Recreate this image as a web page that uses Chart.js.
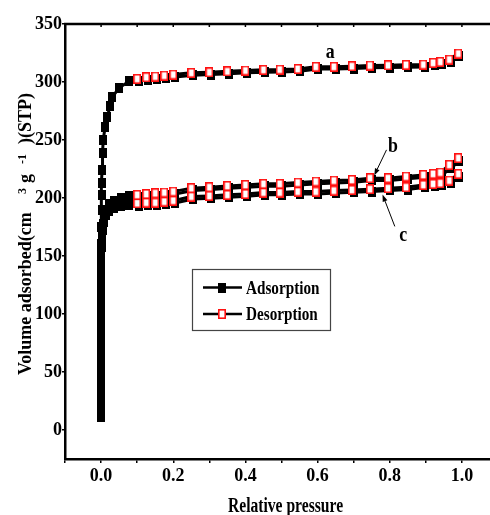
<!DOCTYPE html>
<html>
<head>
<meta charset="utf-8">
<script src="https://cdn.jsdelivr.net/npm/chart.js@4/dist/chart.umd.min.js"></script>
<style>
  html, body { margin: 0; padding: 0; background: #fff; overflow: hidden; }
  #wrap { width: 510px; height: 515px; }
</style>
</head>
<body>
<div id="wrap"><canvas id="iso" width="510" height="515"></canvas></div>
<script>
const SERIF = '"Liberation Serif", "Times New Roman", serif';

// ---- N2 isotherms, relative pressure (p/p0) vs. volume adsorbed ----
// sample a
const aAdsP = [0.0001,0.0001,0.0002,0.0002,0.0003,0.0003,0.0004,0.0004,0.0005,0.0006,0.0007,0.0008,0.0009,0.0011,0.0013,0.0016,0.002,0.003,0.004,0.006,0.011,0.017,0.025,0.031,0.05,0.078,
               0.105,0.13,0.155,0.18,0.205,0.255,0.305,0.355,0.405,0.455,0.50,0.55,0.60,0.65,0.70,0.75,0.80,0.85,0.898,0.925,0.945,0.97,0.992];
const aAdsV = [11,20,30,41,52,64,76,89,102,116,130,145,160,175,190,203,213,224,239,250,261,270,279,287,295,300.6,
               300.7,302.1,302.7,303.5,304.4,305.9,306.4,307.2,307.9,308.5,308.7,309.3,311.1,311.1,311.6,312.2,312.4,312.8,313.0,314.5,315.4,317.3,322.5];
const aDesP = [0.99,0.965,0.94,0.92,0.893,0.845,0.795,0.745,0.695,0.645,0.595,0.545,0.495,0.45,0.40,0.35,0.30,0.25,0.20,0.175,0.15,0.125,0.10];
const aDesV = [324.5,319.3,317.4,316.5,315.0,314.8,314.4,314.2,313.6,313.1,313.1,311.3,310.7,310.5,309.9,309.2,308.4,307.9,306.4,305.5,304.7,304.1,302.7];

// sample b
const bAdsP = [0.0001,0.0001,0.0002,0.0002,0.0003,0.0003,0.0004,0.0005,0.0006,0.0007,0.0008,0.001,0.0013,0.002,0.004,0.008,0.013,0.022,0.036,0.055,0.078,
               0.105,0.13,0.155,0.18,0.205,0.255,0.305,0.355,0.405,0.455,0.50,0.55,0.60,0.65,0.70,0.75,0.80,0.85,0.898,0.925,0.945,0.97,0.992];
const bAdsV = [15,25,35,47,58,70,83,96,109,123,137,152,162,171,178,185,190,194.5,197.5,200,202,
               200.7,201.5,202.1,202.7,203.5,206.5,207.3,208.4,209.3,210.2,210.2,211.3,212.2,213.0,213.6,215.1,215.1,216.5,217.9,218.8,219.9,225.5,232.0];
const bDesP = [0.99,0.965,0.94,0.92,0.893,0.845,0.795,0.745,0.695,0.645,0.595,0.545,0.495,0.45,0.40,0.35,0.30,0.25,0.20,0.175,0.15,0.125,0.10];
const bDesV = [234.4,228.6,221.9,220.8,219.9,218.5,217.1,217.1,215.6,215.0,214.2,213.3,212.2,212.2,211.3,210.4,209.3,208.5,205.5,204.7,204.1,203.5,202.7];

// sample c
const cAdsP = [0.0001,0.0001,0.0002,0.0002,0.0003,0.0003,0.0004,0.0005,0.0006,0.0007,0.0008,0.001,0.0013,0.002,0.004,0.008,0.013,0.022,0.036,0.055,0.078,
               0.105,0.13,0.155,0.18,0.205,0.255,0.305,0.355,0.405,0.455,0.50,0.55,0.60,0.65,0.70,0.75,0.80,0.85,0.898,0.925,0.945,0.97,0.992];
const cAdsV = [13,23,33,44,55,67,80,92,106,120,134,148,158,166,172,179,185,189,191.5,193,194,
               193.5,194.0,194.0,194.9,195.7,199.2,199.8,200.7,201.5,202.7,202.7,203.5,203.5,204.4,205.0,205.6,206.5,207.3,209.3,210.2,210.8,213.0,218.5];
const cDesP = [0.99,0.965,0.94,0.92,0.893,0.845,0.795,0.745,0.695,0.645,0.595,0.545,0.495,0.45,0.40,0.35,0.30,0.25,0.20,0.175,0.15,0.125,0.10];
const cDesV = [220.8,215.0,212.8,212.2,211.3,209.3,208.5,207.6,207.0,206.4,205.5,205.5,204.7,204.7,203.5,202.7,201.8,201.2,197.7,196.9,196.0,196.0,195.5];

// axis ticks and labels
const xTickValues = [0, 0.2, 0.4, 0.6, 0.8, 1.0];
const xTickLabels = ['0.0', '0.2', '0.4', '0.6', '0.8', '1.0'];
const yTickValues = [0, 50, 100, 150, 200, 250, 300, 350];
const yTickLabels = ['0', '50', '100', '150', '200', '250', '300', '350'];
const seriesNames = ['Adsorption', 'Desorption'];
const sampleNames = ['a', 'b', 'c'];
const xTitle = 'Relative pressure';

// sample tags and arrow ends, in data units
const tagA = { x: 0.635, y: 326.5 };
const tagB = { x: 0.809, y: 246 };
const tagC = { x: 0.837, y: 168 };
const arrowB = { x1: 0.791, y1: 241.5, x2: 0.757, y2: 219.5 };
const arrowC = { x1: 0.814, y1: 175.5, x2: 0.780, y2: 203 };

// rectangular markers (taller than wide)
function marker(filled) {
  const cv = document.createElement('canvas');
  cv.width = 8; cv.height = 10;
  const g = cv.getContext('2d');
  if (filled) {
    g.fillStyle = '#000';
    g.fillRect(0, 0, 8, 10);
  } else {
    g.fillStyle = '#fff';
    g.fillRect(0, 0, 8, 10);
    g.strokeStyle = '#ff1010';
    g.lineWidth = 1.6;
    g.strokeRect(0.8, 0.8, 6.4, 8.4);
  }
  return cv;
}
const solidBox = marker(true);
const openBox = marker(false);

function series(label, P, V, box, order) {
  return {
    label,
    data: P.map((p, i) => ({ x: p, y: V[i] })),
    showLine: true,
    borderColor: '#000',
    backgroundColor: '#000',
    borderWidth: 3,
    pointStyle: box,
    pointRadius: 5,
    pointHoverRadius: 5,
    order,
    clip: false
  };
}

const datasets = [
  series(sampleNames[0] + ' ' + seriesNames[0], aAdsP, aAdsV, solidBox, 2),
  series(sampleNames[1] + ' ' + seriesNames[0], bAdsP, bAdsV, solidBox, 2),
  series(sampleNames[2] + ' ' + seriesNames[0], cAdsP, cAdsV, solidBox, 2),
  series(sampleNames[0] + ' ' + seriesNames[1], aDesP, aDesV, openBox, 1),
  series(sampleNames[1] + ' ' + seriesNames[1], bDesP, bDesV, openBox, 1),
  series(sampleNames[2] + ' ' + seriesNames[1], cDesP, cDesV, openBox, 1)
];

function squeezedText(ctx, text, x, y, size, sx, align) {
  ctx.save();
  ctx.font = 'bold ' + size + 'px ' + SERIF;
  const w = ctx.measureText(text).width * sx;
  let left = x;
  if (align === 'center') left = x - w / 2;
  if (align === 'right') left = x - w;
  ctx.translate(left, y);
  ctx.scale(sx, 1);
  ctx.textAlign = 'left';
  ctx.textBaseline = 'alphabetic';
  ctx.fillStyle = '#000';
  ctx.fillText(text, 0, 0);
  ctx.restore();
}

function arrow(ctx, x1, y1, x2, y2) {
  ctx.save();
  ctx.strokeStyle = '#000';
  ctx.fillStyle = '#000';
  ctx.lineWidth = 1;
  const ang = Math.atan2(y2 - y1, x2 - x1);
  const hl = 7, hw = 2.5;
  const bx = x2 - hl * Math.cos(ang), by = y2 - hl * Math.sin(ang);
  ctx.beginPath();
  ctx.moveTo(x1, y1);
  ctx.lineTo(bx, by);
  ctx.stroke();
  ctx.beginPath();
  ctx.moveTo(x2, y2);
  ctx.lineTo(bx + hw * Math.sin(ang), by - hw * Math.cos(ang));
  ctx.lineTo(bx - hw * Math.sin(ang), by + hw * Math.cos(ang));
  ctx.closePath();
  ctx.fill();
  ctx.restore();
}

const decorations = {
  id: 'decorations',
  afterDraw(chart) {
    const ctx = chart.ctx;
    const area = chart.chartArea;
    const xs = chart.scales.x, ys = chart.scales.y;

    // top frame line with small inward ticks
    ctx.save();
    ctx.strokeStyle = '#000';
    ctx.lineWidth = 2.5;
    ctx.beginPath();
    ctx.moveTo(area.left - 1, area.top);
    ctx.lineTo(area.right + 20, area.top);
    ctx.stroke();
    ctx.lineWidth = 1.5;
    for (let k = -1; k <= 11; k++) {
      const px = xs.getPixelForValue(k / 10);
      ctx.beginPath();
      ctx.moveTo(px, area.top);
      ctx.lineTo(px, area.top + 3);
      ctx.stroke();
    }
    ctx.restore();

    // sample tags and arrows
    squeezedText(ctx, sampleNames[0], xs.getPixelForValue(tagA.x), ys.getPixelForValue(tagA.y) + 7, 21, 0.85, 'center');
    squeezedText(ctx, sampleNames[1], xs.getPixelForValue(tagB.x), ys.getPixelForValue(tagB.y) + 7, 21, 0.85, 'center');
    squeezedText(ctx, sampleNames[2], xs.getPixelForValue(tagC.x), ys.getPixelForValue(tagC.y) + 6, 21, 0.85, 'center');
    arrow(ctx, xs.getPixelForValue(arrowB.x1), ys.getPixelForValue(arrowB.y1),
               xs.getPixelForValue(arrowB.x2), ys.getPixelForValue(arrowB.y2));
    arrow(ctx, xs.getPixelForValue(arrowC.x1), ys.getPixelForValue(arrowC.y1),
               xs.getPixelForValue(arrowC.x2), ys.getPixelForValue(arrowC.y2));

    // legend box
    ctx.save();
    ctx.strokeStyle = '#444';
    ctx.lineWidth = 1.2;
    ctx.strokeRect(192.5, 269.5, 138, 61);
    const rows = [{ y: 287.5, box: solidBox }, { y: 314, box: openBox }];
    rows.forEach((r, i) => {
      ctx.strokeStyle = '#000';
      ctx.lineWidth = 2.5;
      ctx.beginPath();
      ctx.moveTo(203, r.y);
      ctx.lineTo(242, r.y);
      ctx.stroke();
      ctx.drawImage(r.box, 222 - 4, r.y - 5);
      squeezedText(ctx, seriesNames[i], 246, r.y + 6, 19, 0.8, 'left');
    });
    ctx.restore();

    // x-axis title
    squeezedText(ctx, xTitle, 285.5, 512, 20, 0.78, 'center');

    // y-axis title with superscripts, written bottom to top
    ctx.save();
    ctx.translate(31, 375);
    ctx.rotate(-Math.PI / 2);
    ctx.fillStyle = '#000';
    ctx.textBaseline = 'alphabetic';
    const parts = [
      { t: 'Volume adsorbed(cm', at: 0, size: 18, rise: 0 },
      { t: '3', at: 181, size: 12, rise: -5 },
      { t: 'g', at: 192, size: 18, rise: 0 },
      { t: '-1', at: 211, size: 12, rise: -5 },
      { t: ')(STP)', at: 231, size: 18, rise: 0 }
    ];
    parts.forEach(p => {
      ctx.font = 'bold ' + p.size + 'px ' + SERIF;
      ctx.fillText(p.t, p.at, p.rise);
    });
    ctx.restore();
  }
};

new Chart(document.getElementById('iso'), {
  type: 'scatter',
  data: { datasets },
  options: {
    responsive: false,
    animation: false,
    devicePixelRatio: 1,
    layout: { padding: { top: 24, right: 12, left: 0, bottom: 0 } },
    plugins: { legend: { display: false }, tooltip: { enabled: false } },
    scales: {
      x: {
        type: 'linear',
        position: 'bottom',
        min: -0.1,
        max: 1.1,
        ticks: {
          stepSize: 0.1,
          autoSkip: false,
          maxRotation: 0,
          padding: 3,
          color: '#000',
          font: { family: SERIF, size: 18, weight: 'bold' },
          callback: (v) => {
            const i = xTickValues.findIndex(t => Math.abs(t - v) < 1e-6);
            return i >= 0 ? xTickLabels[i] : '';
          }
        },
        grid: { drawOnChartArea: false, drawTicks: true, tickLength: 4, color: '#000', lineWidth: 1.5 },
        border: { display: true, color: '#000', width: 2.5 },
        afterFit: (s) => { s.height = 56; }
      },
      y: {
        type: 'linear',
        min: -25,
        max: 350,
        ticks: {
          stepSize: 50,
          includeBounds: false,
          padding: 0,
          color: '#000',
          font: { family: SERIF, size: 18, weight: 'bold' },
          callback: (v) => {
            const i = yTickValues.indexOf(v);
            return i >= 0 ? yTickLabels[i] : '';
          }
        },
        grid: { drawOnChartArea: false, drawTicks: true, tickLength: 3, color: '#000', lineWidth: 1.5 },
        border: { display: true, color: '#000', width: 2.5 },
        afterFit: (s) => { s.width = 65; }
      }
    }
  },
  plugins: [decorations]
});
</script>
</body>
</html>
